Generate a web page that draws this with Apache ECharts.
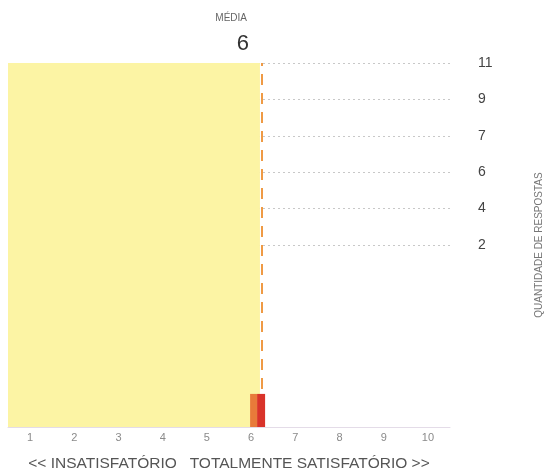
<!DOCTYPE html>
<html>
<head>
<meta charset="utf-8">
<script src="https://cdn.jsdelivr.net/npm/echarts@6/dist/echarts.min.js"></script>
<style>html,body{margin:0;padding:0;background:#fff;}#c{width:547px;height:470px;}</style>
</head>
<body>
<div id="c"></div>
<script>
// Data
var scoreTicks = ['1', '2', '3', '4', '5', '6', '7', '8', '9', '10'];
var responseTickLabels = ['', '', '', '', '', '2', '4', '6', '7', '9', '11'];
var seriesA = [[6, 1]];   // orange bar
var seriesB = [[6, 1]];   // red bar
var meanValue = 6.25;
var maxResponses = 11;
var meanTitle = 'MÉDIA';
var xCaption = '<< INSATISFATÓRIO   TOTALMENTE SATISFATÓRIO >>';
var yName = 'QUANTIDADE DE RESPOSTAS';

var chart = echarts.init(document.getElementById('c'));
var font = 'Liberation Sans, Arial, sans-serif';
chart.setOption({
  animation: false,
  grid: {left: 8, right: 97, top: 63, bottom: 43, containLabel: false, outerBoundsMode: 'none'},
  xAxis: [{
    type: 'category', data: scoreTicks, boundaryGap: true,
    axisLine: {show: true, lineStyle: {color: '#e4dce8', width: 1}},
    axisTick: {show: false},
    splitLine: {show: false},
    axisLabel: {color: '#8a8a8a', fontSize: 11, fontFamily: font, margin: 5},
    name: xCaption, nameLocation: 'middle', nameGap: 29,
    nameTextStyle: {color: '#555', fontSize: 15.5, fontFamily: font}
  }, {
    type: 'value', min: 0.5, max: 10.5, show: false
  }],
  yAxis: [{
    type: 'category', data: responseTickLabels, boundaryGap: false, position: 'right',
    axisLine: {show: false}, axisTick: {show: false},
    axisLabel: {color: '#444', fontSize: 14, fontFamily: font, margin: 28, interval: 0},
    splitLine: {
      show: true,
      interval: function (i, v) { return v !== ''; },
      lineStyle: {color: '#c8c8c8', type: [2, 3], width: 1}
    },
    name: yName, nameLocation: 'middle', nameRotate: 90, nameGap: 84,
    nameTextStyle: {color: '#777', fontSize: 10, fontFamily: font}
  }, {
    type: 'value', min: 0, max: maxResponses, show: false
  }],
  series: [{
    type: 'line', xAxisIndex: 1, yAxisIndex: 1, data: [], silent: true, z: 1,
    markArea: {
      silent: true,
      itemStyle: {color: '#fcf4a4'},
      data: [[{xAxis: 0.5, yAxis: 0}, {xAxis: meanValue - 0.05, yAxis: maxResponses}]]
    },
    markLine: {
      silent: true, symbol: 'none', label: {show: false},
      lineStyle: {color: '#ef9a45', width: 2, type: [11, 8]},
      data: [{xAxis: meanValue}]
    }
  }, {
    type: 'bar', xAxisIndex: 1, yAxisIndex: 1, data: [], barWidth: 13, barGap: '0%',
    itemStyle: {color: 'rgba(0,0,0,0)'}
  }, {
    type: 'bar', xAxisIndex: 1, yAxisIndex: 1, data: seriesA, barWidth: 7, barGap: '0%',
    itemStyle: {color: '#e87a3a'}, z: 5
  }, {
    type: 'bar', xAxisIndex: 1, yAxisIndex: 1, data: seriesB, barWidth: 8, barGap: '0%',
    itemStyle: {color: '#d9332a'}, z: 5
  }],
  graphic: [{
    type: 'text', right: 547 - 247, top: 13,
    style: {text: meanTitle, fill: '#666', font: '10px ' + font, textAlign: 'right'}
  }, {
    type: 'text', right: 547 - 249, top: 33,
    style: {text: String(Math.round(meanValue)), fill: '#333', font: '22px ' + font, textAlign: 'right'}
  }]
});
</script>
</body>
</html>
